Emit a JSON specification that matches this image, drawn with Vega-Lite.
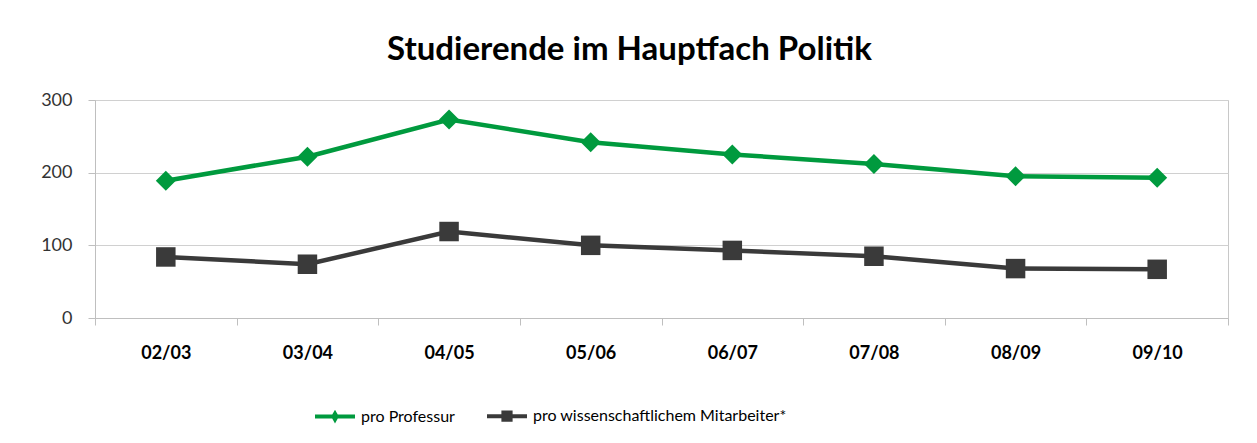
{
  "$schema": "https://vega.github.io/schema/vega-lite/v6.json",
  "width": 1133,
  "height": 218,
  "autosize": "none",
  "padding": {"left": 95, "top": 100, "right": 29, "bottom": 125},
  "background": "white",
  "config": {"font": "Lato", "view": {"stroke": "#c8c8c8", "strokeWidth": 1}},
  "title": {"text": "Studierende im Hauptfach Politik", "fontSize": 33, "font": "Lato", "fontWeight": "bold", "color": "#000000", "anchor": "middle", "offset": 24, "dx": -32},
  "data": {"values": [
    {"jahr": "02/03", "reihe": "pro Professur", "wert": 189},
    {"jahr": "03/04", "reihe": "pro Professur", "wert": 222},
    {"jahr": "04/05", "reihe": "pro Professur", "wert": 273},
    {"jahr": "05/06", "reihe": "pro Professur", "wert": 242},
    {"jahr": "06/07", "reihe": "pro Professur", "wert": 225},
    {"jahr": "07/08", "reihe": "pro Professur", "wert": 212},
    {"jahr": "08/09", "reihe": "pro Professur", "wert": 195},
    {"jahr": "09/10", "reihe": "pro Professur", "wert": 193},
    {"jahr": "02/03", "reihe": "pro wissenschaftlichem Mitarbeiter*", "wert": 84},
    {"jahr": "03/04", "reihe": "pro wissenschaftlichem Mitarbeiter*", "wert": 74},
    {"jahr": "04/05", "reihe": "pro wissenschaftlichem Mitarbeiter*", "wert": 119},
    {"jahr": "05/06", "reihe": "pro wissenschaftlichem Mitarbeiter*", "wert": 100},
    {"jahr": "06/07", "reihe": "pro wissenschaftlichem Mitarbeiter*", "wert": 93},
    {"jahr": "07/08", "reihe": "pro wissenschaftlichem Mitarbeiter*", "wert": 85},
    {"jahr": "08/09", "reihe": "pro wissenschaftlichem Mitarbeiter*", "wert": 68},
    {"jahr": "09/10", "reihe": "pro wissenschaftlichem Mitarbeiter*", "wert": 67}
  ]},
  "encoding": {
    "x": {"field": "jahr", "type": "ordinal", "sort": null, "title": null,
      "scale": {"paddingInner": 0, "paddingOuter": 0},
      "axis": {"labelAngle": 0, "labelFontSize": 18, "labelFontWeight": "bold", "labelColor": "#000000", "labelPadding": 19, "tickSize": 7, "tickColor": "#bfbfbf", "domainColor": "#bfbfbf", "tickBand": "extent", "grid": false}},
    "y": {"field": "wert", "type": "quantitative", "title": null,
      "scale": {"domain": [0, 300], "nice": false},
      "axis": {"values": [0, 100, 200, 300], "labelFontSize": 18, "labelColor": "#333333", "labelPadding": 16, "tickSize": 7, "tickColor": "#bfbfbf", "domainColor": "#bfbfbf", "gridColor": "#d0d0d0", "grid": true}},
    "color": {"field": "reihe", "type": "nominal", "title": null,
      "scale": {"domain": ["pro Professur", "pro wissenschaftlichem Mitarbeiter*"], "range": ["#009a3e", "#3a3a3a"]},
      "legend": {"orient": "none", "direction": "horizontal", "legendX": 218, "legendY": 294,
        "labelFontSize": 16, "labelColor": "#000000", "labelOffset": 4, "labelLimit": 0, "columnPadding": 24,
        "symbolSize": 1600, "symbolStrokeWidth": 4, "symbolType": "M-1,0H1",
        "encode": {"symbols": {"update": {
          "shape": {"signal": "datum.value === 'pro Professur' ? 'M-1,0H1M0,-0.14L0.08,0L0,0.14L-0.08,0Z' : 'M-1,0H1M-0.18,-0.18H0.18V0.18H-0.18Z'"},
          "fill": {"scale": "color", "field": "value"},
          "stroke": {"scale": "color", "field": "value"},
          "strokeWidth": {"value": 4},
          "size": {"value": 1600},
          "opacity": {"value": 1}
        }}}}}
  },
  "layer": [
    {"mark": {"type": "line", "strokeWidth": 4.5}},
    {"mark": {"type": "point", "filled": true, "opacity": 1},
      "encoding": {
        "shape": {"condition": {"test": "datum.reihe === 'pro Professur'", "value": "diamond"}, "value": "square"},
        "size": {"condition": {"test": "datum.reihe === 'pro Professur'", "value": 400}, "value": 380}
      }}
  ]
}
